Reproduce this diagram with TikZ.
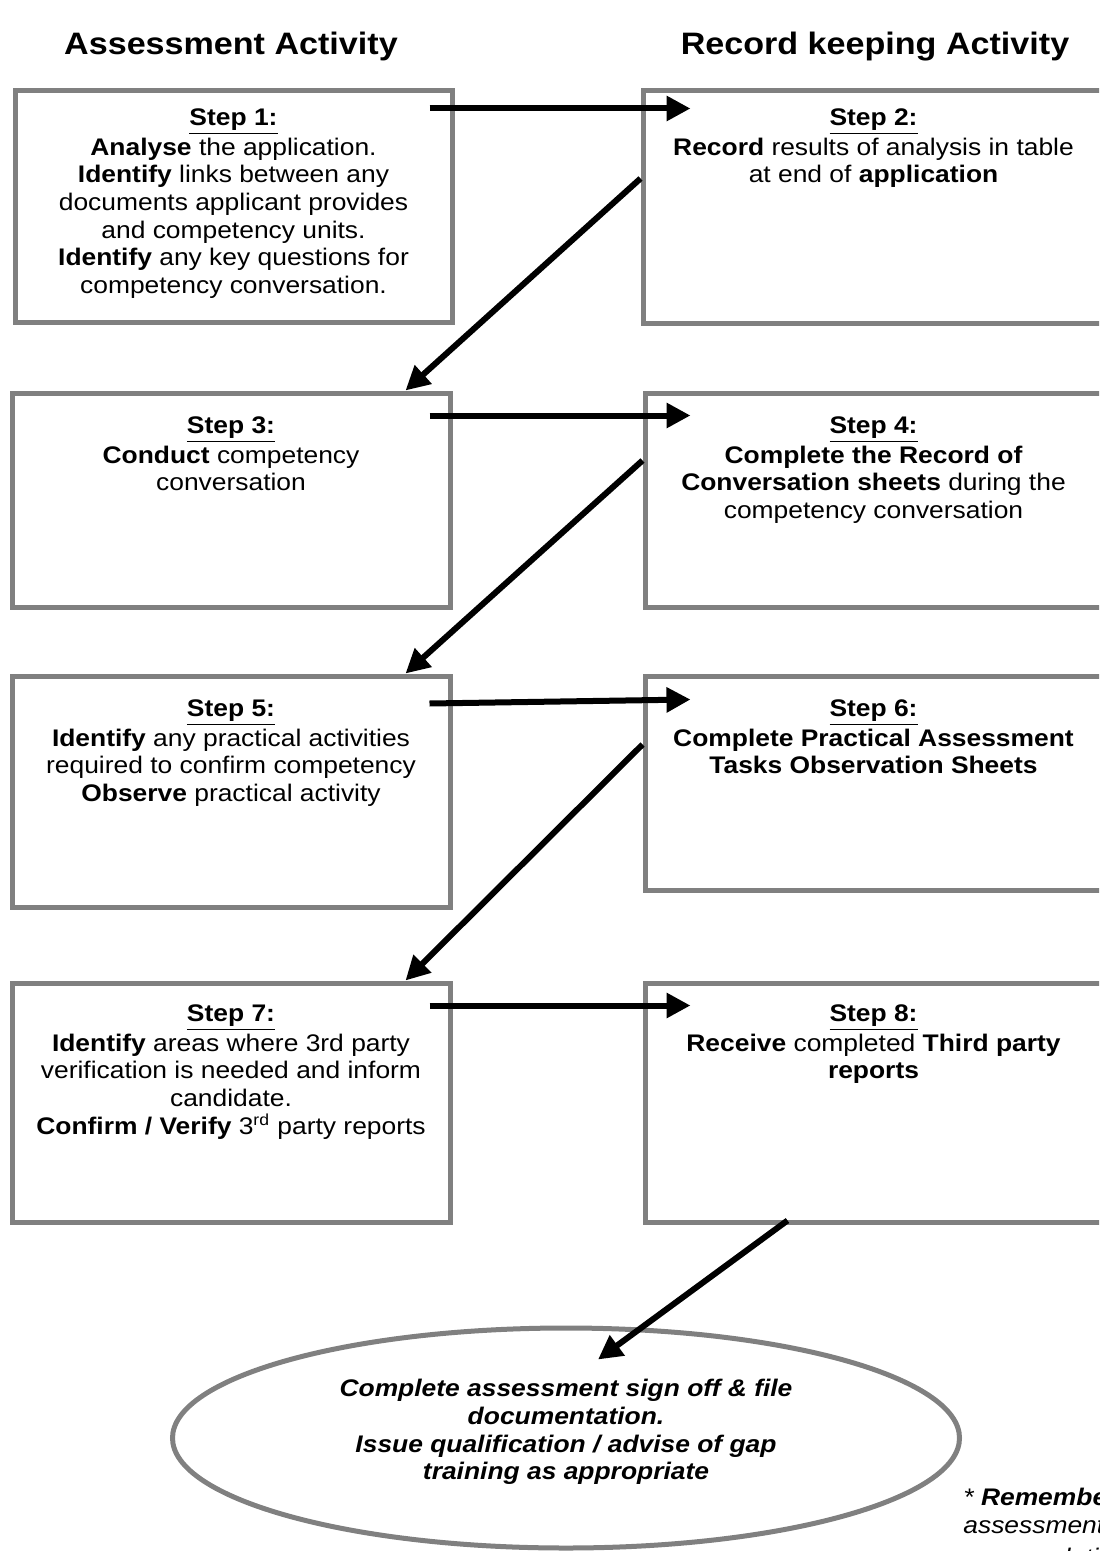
\documentclass[tikz,border=0pt]{standalone}
\usepackage{fontspec}
\setmainfont{Liberation Sans}[FakeStretch=1.1]
\usepackage{xcolor}
\usepackage{tikz}
\usetikzlibrary{shapes.geometric,arrows.meta}
\definecolor{boxgrey}{HTML}{808080}
\definecolor{arrowblack}{HTML}{000000}

\begin{document}
\begin{tikzpicture}[x=0.5pt,y=-0.5pt,%
		stepbox/.style={draw=boxgrey,line width=2.5pt,fill=white},%
		steptext/.style={anchor=north,align=center,inner sep=2pt,font=\fontsize{12}{13.8}\selectfont},%
		titletext/.style={anchor=base,font=\bfseries\fontsize{15.5}{18}\selectfont},%
		endellipse/.style={ellipse,draw=boxgrey,line width=2.5pt,minimum width=393.5pt,minimum height=110pt},%
		endtext/.style={align=center,font=\bfseries\itshape\fontsize{12}{13.8}\selectfont},%
		notetext/.style={anchor=north west,align=left,inner sep=0pt,font=\itshape\fontsize{12}{13.8}\selectfont},%
		flowarrow/.style={draw=arrowblack,line width=3pt,-{Triangle[length=12pt,width=12pt]}}]
	\useasboundingbox (0,0) rectangle (1099,1551);
	\clip (0,0) rectangle (1099,1551);

	% column headings
	\node[titletext] (assesstitle) at (231,55) {Assessment Activity};
	\node[titletext] (recordtitle) at (875,55) {Record keeping Activity};

	% boxes
	\node[stepbox,minimum width=218.5pt,minimum height=116pt] (step1) at (233.5,207) {};
	\node[stepbox,minimum width=233.5pt,minimum height=116.5pt] (step2) at (876.5,207.5) {};
	\node[stepbox,minimum width=219pt,minimum height=107pt] (step3) at (231,500) {};
	\node[stepbox,minimum width=232.5pt,minimum height=107pt] (step4) at (877.5,500) {};
	\node[stepbox,minimum width=219pt,minimum height=115.5pt] (step5) at (231,791.5) {};
	\node[stepbox,minimum width=232.5pt,minimum height=107pt] (step6) at (877.5,783) {};
	\node[stepbox,minimum width=219pt,minimum height=119.5pt] (step7) at (231,1102.5) {};
	\node[stepbox,minimum width=232.5pt,minimum height=119.5pt] (step8) at (877.5,1102.5) {};

	% box texts
	\node[steptext] (step1txt) at ([yshift=-8pt]step1.north) {\underline{\textbf{Step 1:}}\\[1pt]
		\textbf{Analyse} the application.\\
		\textbf{Identify} links between any\\
		documents applicant provides\\
		and competency units.\\
		\textbf{Identify} any key questions for\\
		competency conversation.};
	\node[steptext] (step2txt) at ([xshift=-1.5pt,yshift=-8pt]step2.north) {\underline{\textbf{Step 2:}}\\[1pt]
		\textbf{Record} results of analysis in table\\
		at end of \textbf{application}};
	\node[steptext] (step3txt) at ([yshift=-11pt]step3.north) {\underline{\textbf{Step 3:}}\\[1pt]
		\textbf{Conduct} competency\\
		conversation};
	\node[steptext] (step4txt) at ([xshift=-2pt,yshift=-11pt]step4.north) {\underline{\textbf{Step 4:}}\\[1pt]
		\textbf{Complete the Record of}\\
		\textbf{Conversation sheets} during the\\
		competency conversation};
	\node[steptext] (step5txt) at ([yshift=-11pt]step5.north) {\underline{\textbf{Step 5:}}\\[1pt]
		\textbf{Identify} any practical activities\\
		required to confirm competency\\
		\textbf{Observe} practical activity};
	\node[steptext] (step6txt) at ([xshift=-2pt,yshift=-11pt]step6.north) {\underline{\textbf{Step 6:}}\\[1pt]
		\textbf{Complete Practical Assessment}\\
		\textbf{Tasks Observation Sheets}};
	\node[steptext] (step7txt) at ([yshift=-10pt]step7.north) {\underline{\textbf{Step 7:}}\\[1pt]
		\textbf{Identify} areas where 3rd party\\
		verification is needed and inform\\
		candidate.\\
		\textbf{Confirm / Verify} 3\textsuperscript{rd} party reports};
	\node[steptext] (step8txt) at ([xshift=-2pt,yshift=-10pt]step8.north) {\underline{\textbf{Step 8:}}\\[1pt]
		\textbf{Receive} completed \textbf{Third party}\\
		\textbf{reports}};

	% final ellipse
	\node[endellipse] (finish) at (566,1438) {};
	\node[endtext] (finishtxt) at ([yshift=3pt]finish.center) {Complete assessment sign off \& file\\
		documentation.\\
		Issue qualification / advise of gap\\
		training as appropriate};

	% note at the corner
	\node[notetext] (remember) at (963,1488) {* \textbf{Remember}\\
		assessment\\[2pt]
		on completion};

	% arrows
	\draw[flowarrow] ([xshift=-12.5pt,yshift=-10pt]step1.north east) -- ([xshift=25pt,yshift=-10pt]step2.north west);
	\draw[flowarrow] ([yshift=-45pt]step2.north west) -- ([xshift=-23.5pt]step3.north east);
	\draw[flowarrow] ([xshift=-11.5pt,yshift=-12.5pt]step3.north east) -- ([xshift=24pt,yshift=-12.5pt]step4.north west);
	\draw[flowarrow] ([yshift=-35pt]step4.north west) -- ([xshift=-23.5pt]step5.north east);
	\draw[flowarrow] ([xshift=-11.5pt,yshift=-15pt]step5.north east) -- ([xshift=24pt,yshift=-13pt]step6.north west);
	\draw[flowarrow] ([yshift=-35.5pt]step6.north west) -- ([xshift=-23.5pt]step7.north east);
	\draw[flowarrow] ([xshift=-11.5pt,yshift=-12.5pt]step7.north east) -- ([xshift=24pt,yshift=-12.5pt]step8.north west);
	\draw[flowarrow] ([xshift=72.5pt,yshift=2pt]step8.south west) -- ([xshift=16pt,yshift=-17pt]finish.north);
\end{tikzpicture}
\end{document}
